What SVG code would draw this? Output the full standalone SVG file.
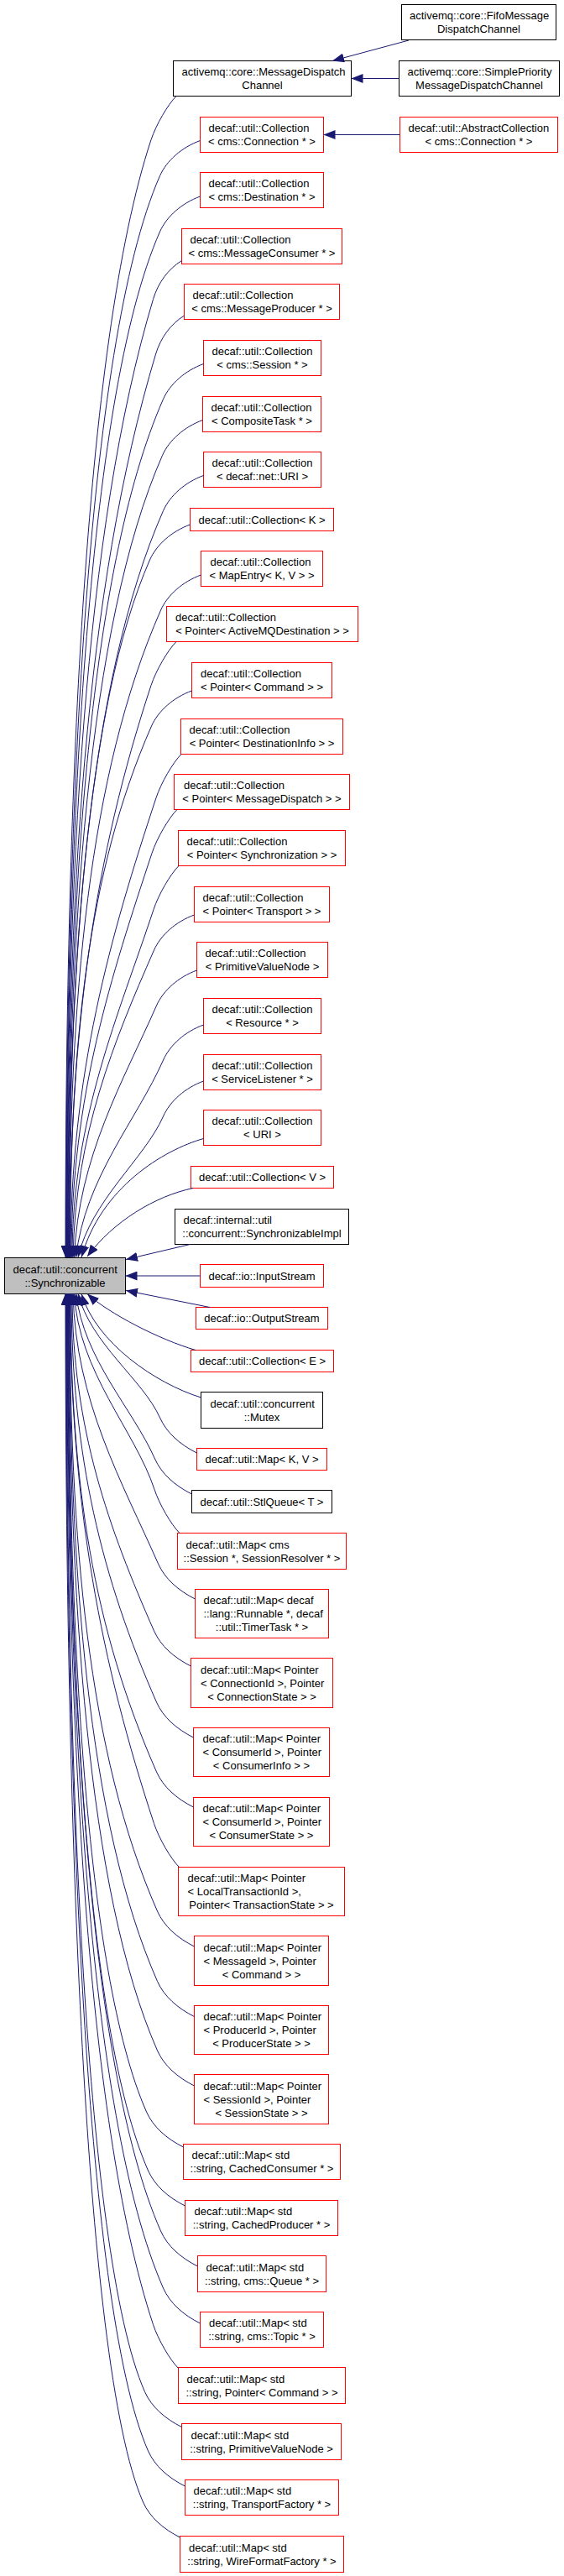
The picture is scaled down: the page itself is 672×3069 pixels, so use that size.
<svg xmlns="http://www.w3.org/2000/svg" width="672" height="3069" viewBox="0 0 672 3069">
<style>
.n rect{fill:#fff;stroke-width:1}
.r rect{stroke:#ff0000}
.k rect{stroke:#000}
.g rect{fill:#bfbfbf;stroke:#000}
text{font-family:"Liberation Sans",Arial,Helvetica,sans-serif;font-size:13px;fill:#000}
.c{text-anchor:middle}
#edges path{fill:none;stroke:#191970;stroke-width:1;marker-end:url(#ah)}
</style>
<defs>
<marker id="ah" markerWidth="14" markerHeight="11" refX="14" refY="5.5" orient="auto" markerUnits="userSpaceOnUse"><path d="M0,0 L14,5.5 L0,11 z" fill="#191970"/></marker>
</defs>
<rect width="672" height="3069" fill="#fff"/>
<g id="nodes">
<g id="n_fifo" class="n k"><rect x="478.5" y="5.5" width="184" height="42"/><text x="488" y="23">activemq::core::FifoMessage</text><text class="c" x="570.5" y="39">DispatchChannel</text></g>
<g id="n_mdc" class="n k"><rect x="206.5" y="72.5" width="212" height="42"/><text x="216.5" y="90">activemq::core::MessageDispatch</text><text class="c" x="312.5" y="106">Channel</text></g>
<g id="n_simple" class="n k"><rect x="475.5" y="72.5" width="191" height="42"/><text x="485.5" y="90">activemq::core::SimplePriority</text><text class="c" x="571" y="106">MessageDispatchChannel</text></g>
<g id="n_conn" class="n r"><rect x="238.5" y="139.5" width="147" height="42"/><text x="248.5" y="157">decaf::util::Collection</text><text class="c" x="312" y="173">&lt; cms::Connection * &gt;</text></g>
<g id="n_abstract" class="n r"><rect x="476.5" y="139.5" width="188" height="42"/><text x="486.5" y="157">decaf::util::AbstractCollection</text><text class="c" x="570.5" y="173">&lt; cms::Connection * &gt;</text></g>
<g id="n_dest" class="n r"><rect x="238.5" y="205.5" width="147" height="42"/><text x="248.5" y="223">decaf::util::Collection</text><text class="c" x="312" y="239">&lt; cms::Destination * &gt;</text></g>
<g id="n_consumer" class="n r"><rect x="216.5" y="272.5" width="191" height="42"/><text x="226.5" y="290">decaf::util::Collection</text><text class="c" x="312" y="306">&lt; cms::MessageConsumer * &gt;</text></g>
<g id="n_producer" class="n r"><rect x="219.5" y="338.5" width="185" height="42"/><text x="229.5" y="356">decaf::util::Collection</text><text class="c" x="312" y="372">&lt; cms::MessageProducer * &gt;</text></g>
<g id="n_session" class="n r"><rect x="242.5" y="405.5" width="140" height="42"/><text x="252.5" y="423">decaf::util::Collection</text><text class="c" x="312.5" y="439">&lt; cms::Session * &gt;</text></g>
<g id="n_composite" class="n r"><rect x="241.5" y="472.5" width="141" height="42"/><text x="251.5" y="490">decaf::util::Collection</text><text class="c" x="312" y="506">&lt; CompositeTask * &gt;</text></g>
<g id="n_neturi" class="n r"><rect x="242.5" y="538.5" width="140" height="42"/><text x="252.5" y="556">decaf::util::Collection</text><text class="c" x="312.5" y="572">&lt; decaf::net::URI &gt;</text></g>
<g id="n_k" class="n r"><rect x="226.5" y="605.5" width="171" height="27"/><text class="c" x="312" y="623.5">decaf::util::Collection&lt; K &gt;</text></g>
<g id="n_mapentry" class="n r"><rect x="239.5" y="656.5" width="145" height="42"/><text x="250.5" y="674">decaf::util::Collection</text><text class="c" x="312" y="690">&lt; MapEntry&lt; K, V &gt; &gt;</text></g>
<g id="n_amqdest" class="n r"><rect x="198.5" y="722.5" width="228" height="42"/><text x="209" y="740">decaf::util::Collection</text><text class="c" x="312.5" y="756">&lt; Pointer&lt; ActiveMQDestination &gt; &gt;</text></g>
<g id="n_ptrcmd" class="n r"><rect x="228.5" y="789.5" width="167" height="42"/><text x="239" y="807">decaf::util::Collection</text><text class="c" x="312" y="823">&lt; Pointer&lt; Command &gt; &gt;</text></g>
<g id="n_destinfo" class="n r"><rect x="215.5" y="856.5" width="193" height="42"/><text x="225.5" y="874">decaf::util::Collection</text><text class="c" x="312" y="890">&lt; Pointer&lt; DestinationInfo &gt; &gt;</text></g>
<g id="n_msgdisp" class="n r"><rect x="207.5" y="922.5" width="209" height="42"/><text x="219" y="940">decaf::util::Collection</text><text class="c" x="312" y="956">&lt; Pointer&lt; MessageDispatch &gt; &gt;</text></g>
<g id="n_sync" class="n r"><rect x="212.5" y="989.5" width="199" height="42"/><text x="222.5" y="1007">decaf::util::Collection</text><text class="c" x="312" y="1023">&lt; Pointer&lt; Synchronization &gt; &gt;</text></g>
<g id="n_transport" class="n r"><rect x="231.5" y="1056.5" width="161" height="42"/><text x="241.5" y="1074">decaf::util::Collection</text><text class="c" x="312" y="1090">&lt; Pointer&lt; Transport &gt; &gt;</text></g>
<g id="n_pvn" class="n r"><rect x="234.5" y="1122.5" width="156" height="42"/><text x="244.5" y="1140">decaf::util::Collection</text><text class="c" x="312.5" y="1156">&lt; PrimitiveValueNode &gt;</text></g>
<g id="n_resource" class="n r"><rect x="242.5" y="1189.5" width="140" height="42"/><text x="252.5" y="1207">decaf::util::Collection</text><text class="c" x="312.5" y="1223">&lt; Resource * &gt;</text></g>
<g id="n_sl" class="n r"><rect x="242.5" y="1256.5" width="140" height="42"/><text x="252.5" y="1274">decaf::util::Collection</text><text class="c" x="312.5" y="1290">&lt; ServiceListener * &gt;</text></g>
<g id="n_uri" class="n r"><rect x="242.5" y="1322.5" width="140" height="42"/><text x="252.5" y="1340">decaf::util::Collection</text><text class="c" x="312.5" y="1356">&lt; URI &gt;</text></g>
<g id="n_v" class="n r"><rect x="227.5" y="1389.5" width="170" height="26"/><text class="c" x="312.5" y="1407">decaf::util::Collection&lt; V &gt;</text></g>
<g id="n_impl" class="n k"><rect x="208.5" y="1440.5" width="207" height="42"/><text x="218.5" y="1458">decaf::internal::util</text><text class="c" x="312" y="1474">::concurrent::SynchronizableImpl</text></g>
<g id="n_synchronizable" class="n g"><rect x="5.5" y="1498.5" width="144" height="43"/><text x="15.5" y="1516.5">decaf::util::concurrent</text><text class="c" x="77.5" y="1532.5">::Synchronizable</text></g>
<g id="n_input" class="n r"><rect x="238.5" y="1506.5" width="147" height="27"/><text class="c" x="312" y="1524.5">decaf::io::InputStream</text></g>
<g id="n_output" class="n r"><rect x="233.5" y="1557.5" width="157" height="26"/><text class="c" x="312" y="1575">decaf::io::OutputStream</text></g>
<g id="n_e" class="n r"><rect x="227.5" y="1608.5" width="170" height="26"/><text class="c" x="312.5" y="1626">decaf::util::Collection&lt; E &gt;</text></g>
<g id="n_mutex" class="n k"><rect x="239.5" y="1658.5" width="145" height="43"/><text x="250.5" y="1676.5">decaf::util::concurrent</text><text class="c" x="312" y="1692.5">::Mutex</text></g>
<g id="n_mapkv" class="n r"><rect x="234.5" y="1725.5" width="155" height="26"/><text class="c" x="312" y="1743">decaf::util::Map&lt; K, V &gt;</text></g>
<g id="n_stlqueue" class="n k"><rect x="228.5" y="1775.5" width="167" height="27"/><text class="c" x="312" y="1793.5">decaf::util::StlQueue&lt; T &gt;</text></g>
<g id="n_sessionmap" class="n r"><rect x="211.5" y="1826.5" width="201" height="43"/><text x="221.5" y="1844.5">decaf::util::Map&lt; cms</text><text class="c" x="312" y="1860.5">::Session *, SessionResolver * &gt;</text></g>
<g id="n_runnable" class="n r"><rect x="232.5" y="1893.5" width="159" height="58"/><text x="242.5" y="1911">decaf::util::Map&lt; decaf</text><text x="242.5" y="1927">::lang::Runnable *, decaf</text><text class="c" x="312" y="1943">::util::TimerTask * &gt;</text></g>
<g id="n_connid" class="n r"><rect x="227.5" y="1975.5" width="169" height="59"/><text x="239" y="1993.5">decaf::util::Map&lt; Pointer</text><text x="239" y="2009.5">&lt; ConnectionId &gt;, Pointer</text><text class="c" x="312" y="2025.5">&lt; ConnectionState &gt; &gt;</text></g>
<g id="n_consinfo" class="n r"><rect x="230.5" y="2058.5" width="162" height="58"/><text x="241.5" y="2076">decaf::util::Map&lt; Pointer</text><text x="241.5" y="2092">&lt; ConsumerId &gt;, Pointer</text><text class="c" x="311.5" y="2108">&lt; ConsumerInfo &gt; &gt;</text></g>
<g id="n_consstate" class="n r"><rect x="230.5" y="2141.5" width="162" height="58"/><text x="241.5" y="2159">decaf::util::Map&lt; Pointer</text><text x="241.5" y="2175">&lt; ConsumerId &gt;, Pointer</text><text class="c" x="311.5" y="2191">&lt; ConsumerState &gt; &gt;</text></g>
<g id="n_localtx" class="n r"><rect x="212.5" y="2224.5" width="198" height="58"/><text x="223.5" y="2242">decaf::util::Map&lt; Pointer</text><text x="223.5" y="2258">&lt; LocalTransactionId &gt;,</text><text class="c" x="311.5" y="2274">Pointer&lt; TransactionState &gt; &gt;</text></g>
<g id="n_msgid" class="n r"><rect x="231.5" y="2306.5" width="160" height="59"/><text x="242.5" y="2324.5">decaf::util::Map&lt; Pointer</text><text x="242.5" y="2340.5">&lt; MessageId &gt;, Pointer</text><text class="c" x="311.5" y="2356.5">&lt; Command &gt; &gt;</text></g>
<g id="n_prodid" class="n r"><rect x="231.5" y="2389.5" width="160" height="58"/><text x="242.5" y="2407">decaf::util::Map&lt; Pointer</text><text x="242.5" y="2423">&lt; ProducerId &gt;, Pointer</text><text class="c" x="311.5" y="2439">&lt; ProducerState &gt; &gt;</text></g>
<g id="n_sessid" class="n r"><rect x="231.5" y="2471.5" width="160" height="59"/><text x="242.5" y="2489.5">decaf::util::Map&lt; Pointer</text><text x="242.5" y="2505.5">&lt; SessionId &gt;, Pointer</text><text class="c" x="311.5" y="2521.5">&lt; SessionState &gt; &gt;</text></g>
<g id="n_cachedcons" class="n r"><rect x="218.5" y="2554.5" width="187" height="42"/><text x="228.5" y="2572">decaf::util::Map&lt; std</text><text class="c" x="312" y="2588">::string, CachedConsumer * &gt;</text></g>
<g id="n_cachedprod" class="n r"><rect x="220.5" y="2621.5" width="182" height="42"/><text x="231.5" y="2639">decaf::util::Map&lt; std</text><text class="c" x="311.5" y="2655">::string, CachedProducer * &gt;</text></g>
<g id="n_queue" class="n r"><rect x="235.5" y="2687.5" width="153" height="43"/><text x="245.5" y="2705.5">decaf::util::Map&lt; std</text><text class="c" x="312" y="2721.5">::string, cms::Queue * &gt;</text></g>
<g id="n_topic" class="n r"><rect x="238.5" y="2754.5" width="147" height="42"/><text x="249" y="2772">decaf::util::Map&lt; std</text><text class="c" x="312" y="2788">::string, cms::Topic * &gt;</text></g>
<g id="n_mapptrcmd" class="n r"><rect x="212.5" y="2820.5" width="199" height="43"/><text x="222.5" y="2838.5">decaf::util::Map&lt; std</text><text class="c" x="312" y="2854.5">::string, Pointer&lt; Command &gt; &gt;</text></g>
<g id="n_mappvn" class="n r"><rect x="216.5" y="2887.5" width="190" height="43"/><text x="227.5" y="2905.5">decaf::util::Map&lt; std</text><text class="c" x="311.5" y="2921.5">::string, PrimitiveValueNode &gt;</text></g>
<g id="n_tf" class="n r"><rect x="220.5" y="2954.5" width="183" height="42"/><text x="230.5" y="2972">decaf::util::Map&lt; std</text><text class="c" x="312" y="2988">::string, TransportFactory * &gt;</text></g>
<g id="n_wff" class="n r"><rect x="214.5" y="3021.5" width="195" height="43"/><text x="225" y="3039.5">decaf::util::Map&lt; std</text><text class="c" x="312" y="3055.5">::string, WireFormatFactory * &gt;</text></g>
</g>
<g id="edges">
<path d="M487,48 L396,72.5"/>
<path d="M475.5,93.5 L418.5,93.5"/>
<path d="M476.5,160.5 L385.5,160.5"/>
<path d="M210,114.5 c-10,10 -24,34 -30,52 C99.2,411.3 78,965.4 78,1498"/>
<path d="M238.5,167.5 c-22,8 -40,24 -48,42 C101.8,411.1 78.5,982.6 78.5,1498"/>
<path d="M238.5,234 c-22,8 -40,24 -48,42 C102.2,476.7 79,1009.2 79,1498"/>
<path d="M216.5,310.5 c-16,10 -28,26 -34,46 C100,631.5 79.5,1041.4 79.5,1498"/>
<path d="M219.5,376 c-16,10 -28,26 -34,46 C101,703.7 80,1067.6 80,1498"/>
<path d="M242.5,433.5 c-22,8 -40,24 -48,42 C104.2,680.7 80.5,1089 80.5,1498"/>
<path d="M241.5,500.5 c-22,8 -40,24 -48,42 C104.4,745 81,1115.8 81,1498"/>
<path d="M242.5,566.5 c-22,8 -40,24 -48,42 C105,811.9 81.5,1142.2 81.5,1498"/>
<path d="M226.5,625 c-22,8 -40,24 -48,42 C102.1,840.7 82,1165.6 82,1498"/>
<path d="M239.5,685 c-22,8 -40,24 -48,42 C105.2,923.2 82.5,1189.6 82.5,1498"/>
<path d="M210,764.5 c-10,10 -24,34 -30,52 C112.5,1020.9 83,1225.4 83,1498"/>
<path d="M228.5,823 c-22,8 -40,24 -48,42 C103.7,1039.6 83.5,1244.8 83.5,1498"/>
<path d="M216,898.5 c-10,10 -24,34 -30,52 C131.8,1114.7 84,1279 84,1498"/>
<path d="M211,964.5 c-10,10 -24,34 -30,52 C133.3,1160.9 85,1305.4 85,1498"/>
<path d="M213,1031.5 c-10,10 -24,34 -30,52 C142,1207.8 86,1332.2 86,1498"/>
<path d="M231.5,1090 c-22,8 -40,24 -48,42 C135.2,1241.8 89.9,1351.6 87,1498"/>
<path d="M234.5,1156 c-22,8 -40,24 -48,42 C146.9,1288 93.4,1378 88.5,1498"/>
<path d="M242.5,1221 c-22,8 -40,24 -48,42 C163.5,1333.5 100.9,1404 90.5,1498"/>
<path d="M242.5,1288 c-22,8 -40,24 -48,42 C172.3,1380.4 108.2,1430.8 93,1498"/>
<path d="M242.5,1356.5 C195,1370 120,1415 97,1498"/>
<path d="M230,1415.5 C185,1425 135,1455 104,1497"/>
<path d="M226.5,1482.5 L150,1500.5"/>
<path d="M238.5,1520 L149.5,1520"/>
<path d="M250,1557.5 L150,1537.5"/>
<path d="M233,1608.5 C190,1596 130,1565 104,1541.5"/>
<path d="M239.5,1665 C185,1648 115,1600 97,1541.5"/>
<path d="M234.5,1731 c-20,-10 -36,-24 -44,-42 C171,1644.6 107.6,1600.2 93,1541"/>
<path d="M228.5,1780 c-20,-10 -36,-24 -44,-42 C158.5,1678.9 99.9,1619.8 90.5,1541"/>
<path d="M214,1826.5 c-10,-10 -24,-34 -30,-52 C160.9,1704.4 93.3,1634.4 88.5,1541"/>
<path d="M232.5,1905 c-20,-10 -36,-24 -44,-42 C146,1766.4 90,1669.8 87,1541"/>
<path d="M227.5,1985 c-20,-10 -36,-24 -44,-42 C130.4,1822.4 86,1701.8 86,1541"/>
<path d="M230.5,2070 c-20,-10 -36,-24 -44,-42 C122.2,1881.9 85,1735.8 85,1541"/>
<path d="M230.5,2153 c-20,-10 -36,-24 -44,-42 C111.3,1940 84,1769 84,1541"/>
<path d="M213.5,2224.5 c-10,-10 -24,-34 -30,-52 C121,1983 83.5,1793.6 83.5,1541"/>
<path d="M231.5,2319 c-20,-10 -36,-24 -44,-42 C104.7,2088.9 83,1835.4 83,1541"/>
<path d="M231.5,2402.5 c-20,-10 -36,-24 -44,-42 C104.3,2171.5 82.5,1868.8 82.5,1541"/>
<path d="M231.5,2485 c-20,-10 -36,-24 -44,-42 C103.9,2253.1 82,1901.8 82,1541"/>
<path d="M218.5,2558 c-20,-10 -36,-24 -44,-42 C100.8,2348.6 81.5,1931 81.5,1541"/>
<path d="M220.5,2628 c-20,-10 -36,-24 -44,-42 C100.9,2414.1 81,1959 81,1541"/>
<path d="M235.5,2700 c-20,-10 -36,-24 -44,-42 C103.6,2458.2 80.5,1987.8 80.5,1541"/>
<path d="M238.5,2768 c-20,-10 -36,-24 -44,-42 C103.8,2519.9 80,2015 80,1541"/>
<path d="M212.5,2821.5 c-10,-10 -24,-34 -30,-52 C100.9,2522.3 79.5,2032.4 79.5,1541"/>
<path d="M216.5,2891.5 c-20,-10 -36,-24 -44,-42 C98.5,2681.2 79,2064.4 79,1541"/>
<path d="M220.5,2962 c-20,-10 -36,-24 -44,-42 C98.9,2743.6 78.5,2092.6 78.5,1541"/>
<path d="M214.5,3023 c-20,-10 -36,-24 -44,-42 C97.2,2814.5 78,2117 78,1541"/>
</g>
</svg>
